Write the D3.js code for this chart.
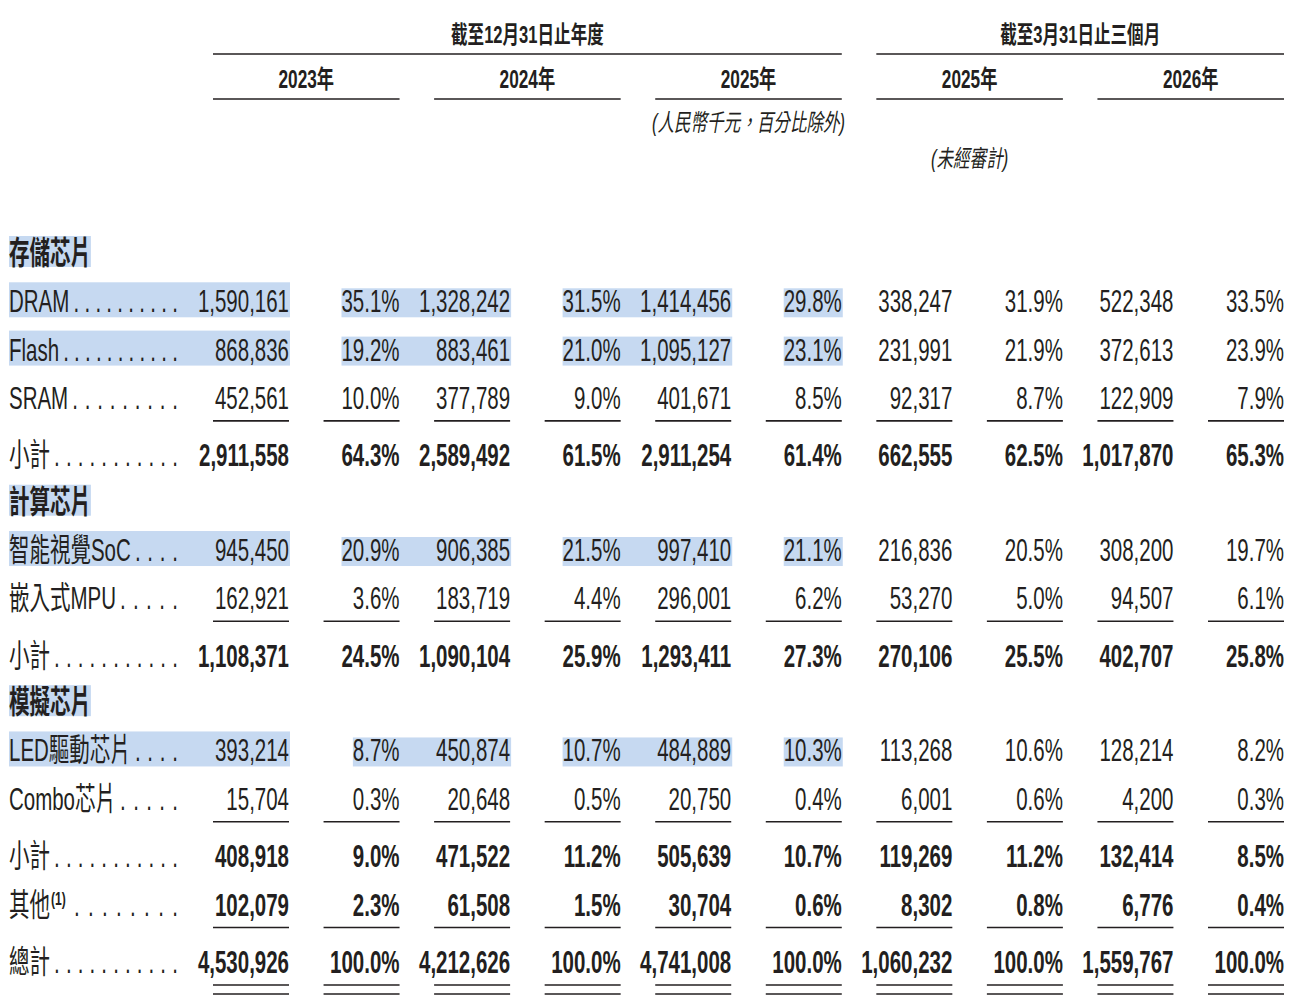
<!DOCTYPE html>
<html>

<head>
    <meta charset="utf-8">
    <title>Revenue by product</title>
    <script src="https://d3js.org/d3.v7.min.js"></script>
    <style>
        body { margin: 0; background: #fff; }
        text { font-family: "Liberation Sans", Arial, "Noto Sans CJK TC", sans-serif; fill: #231f20; }
    </style>
</head>

<body>

    <svg width="1296" height="1005" id="mainSvg" class="svgs"></svg>
    <script>
        // ---- data ----
        const rowLabels = ["存儲芯片", "DRAM", "Flash", "SRAM", "小計", "計算芯片", "智能視覺SoC", "嵌入式MPU", "小計",
            "模擬芯片", "LED驅動芯片", "Combo芯片", "小計", "其他", "總計"];
        const rowTypes = ["section", "item", "item", "item", "subtotal", "section", "item", "item", "subtotal",
            "section", "item", "item", "subtotal", "other", "total"];
        const leaderDots = [0, 10, 11, 9, 11, 0, 4, 5, 11, 0, 4, 5, 11, 8, 11];
        const highlightRows = [1, 2, 6, 10];
        const underlinedRows = [3, 7, 11, 13];
        const footnoteRows = { 13: "(1)" };

        const amt2023 = [null, 1590161, 868836, 452561, 2911558, null, 945450, 162921, 1108371, null, 393214, 15704, 408918, 102079, 4530926];
        const pct2023 = [null, 35.1, 19.2, 10.0, 64.3, null, 20.9, 3.6, 24.5, null, 8.7, 0.3, 9.0, 2.3, 100.0];
        const amt2024 = [null, 1328242, 883461, 377789, 2589492, null, 906385, 183719, 1090104, null, 450874, 20648, 471522, 61508, 4212626];
        const pct2024 = [null, 31.5, 21.0, 9.0, 61.5, null, 21.5, 4.4, 25.9, null, 10.7, 0.5, 11.2, 1.5, 100.0];
        const amt2025 = [null, 1414456, 1095127, 401671, 2911254, null, 997410, 296001, 1293411, null, 484889, 20750, 505639, 30704, 4741008];
        const pct2025 = [null, 29.8, 23.1, 8.5, 61.4, null, 21.1, 6.2, 27.3, null, 10.3, 0.4, 10.7, 0.6, 100.0];
        const amtQ2025 = [null, 338247, 231991, 92317, 662555, null, 216836, 53270, 270106, null, 113268, 6001, 119269, 8302, 1060232];
        const pctQ2025 = [null, 31.9, 21.9, 8.7, 62.5, null, 20.5, 5.0, 25.5, null, 10.6, 0.6, 11.2, 0.8, 100.0];
        const amtQ2026 = [null, 522348, 372613, 122909, 1017870, null, 308200, 94507, 402707, null, 128214, 4200, 132414, 6776, 1559767];
        const pctQ2026 = [null, 33.5, 23.9, 7.9, 65.3, null, 19.7, 6.1, 25.8, null, 8.2, 0.3, 8.5, 0.4, 100.0];

        const periodGroups = ["截至12月31日止年度", "截至3月31日止三個月"];
        const periodYears = ["2023年", "2024年", "2025年", "2025年", "2026年"];
        const unitNote = "(人民幣千元，百分比除外)";
        const auditNote = "(未經審計)";

        const columns = [amt2023, pct2023, amt2024, pct2024, amt2025, pct2025, amtQ2025, pctQ2025, amtQ2026, pctQ2026];

        // ---- layout ----
        const mainSvg = d3.select('.svgs');
        const SX = 0.64;      // condensed look
        const HSX = 0.69;
        const ink = "#231f20";
        const hiColor = "#c6d9f1";
        const colW = 77;
        const labelX = 9;
        const dotEnd = 175;

        const x = d3.scaleLinear().domain([0, columns.length - 1]).range([289, 1284]);

        // row positions in "units": extra space after an underline, a bit less before a section
        const units = [0];
        for (let i = 1; i < rowLabels.length; i++) {
            let step = 1;
            if (underlinedRows.includes(i - 1)) step += 0.19;
            if (rowTypes[i] === "section") step -= 0.04;
            units.push(units[i - 1] + step);
        }
        const y = d3.scaleLinear().domain([0, units[units.length - 1]]).range([264, 973]);

        const fmtAmt = d3.format(",");
        const fmtPct = v => d3.format(".1f")(v) + "%";

        const hiLayer = mainSvg.append("g").attr("id", "highlights");
        const lineLayer = mainSvg.append("g").attr("id", "lines");
        const textLayer = mainSvg.append("g").attr("id", "texts");

        const addText = function (str, tx, ty, o = {}) {
            return textLayer.append("text")
                .attr("transform", `translate(${tx},${ty}) scale(${o.sx || SX},1)`)
                .attr("text-anchor", o.anchor || "start")
                .attr("font-size", o.size || 32)
                .attr("font-weight", o.weight || "normal")
                .attr("font-style", o.style || "normal")
                .text(str);
        }
        const textWidth = (t, sx) => t.node().getComputedTextLength() * sx;

        const hline = function (x1, x2, ly, w = 1.6) {
            lineLayer.append("line")
                .attr("x1", x1).attr("x2", x2).attr("y1", ly).attr("y2", ly)
                .attr("stroke", ink).attr("stroke-width", w);
        }

        // ---- header ----
        const colLeft = i => x(i) - colW + 1;
        const groupSpans = [[0, 5], [6, 9]];
        groupSpans.forEach((s, i) => {
            const cx = (colLeft(s[0]) + x(s[1])) / 2;
            addText(periodGroups[i], cx, 43, { anchor: "middle", size: 24, weight: "bold", sx: HSX });
            hline(colLeft(s[0]), x(s[1]), 54);
        });
        periodYears.forEach((yr, i) => {
            const a = i * 2, b = i * 2 + 1;
            const cx = (colLeft(a) + x(b)) / 2;
            addText(yr, cx, 88, { anchor: "middle", size: 25, weight: "bold", sx: HSX });
            hline(colLeft(a), x(b), 99);
        });
        addText(unitNote, (colLeft(4) + x(5)) / 2, 131, { anchor: "middle", size: 24, style: "italic", sx: HSX });
        addText(auditNote, (colLeft(6) + x(7)) / 2, 167, { anchor: "middle", size: 24, style: "italic", sx: HSX });

        // ---- body ----
        rowLabels.forEach((label, r) => {
            const by = y(units[r]);
            const type = rowTypes[r];

            if (type === "section") {
                const t = addText(label, labelX, by, { weight: 600 });
                hiLayer.append("rect")
                    .attr("x", labelX).attr("y", by - 28)
                    .attr("width", textWidth(t, SX)).attr("height", 31)
                    .attr("fill", hiColor);
                return;
            }

            const lt = addText(label, labelX, by);
            let labelEnd = labelX + textWidth(lt, SX);
            if (footnoteRows[r]) {
                const ft = addText(footnoteRows[r], labelEnd + 1, by - 11, { size: 19, weight: "bold" });
                labelEnd += 1 + textWidth(ft, SX) + 4;
            }
            // leader dots spread from just after the label to the fixed end
            const n = leaderDots[r];
            const first = labelEnd + 7;
            const step = n > 1 ? (dotEnd - first) / (n - 1) : 0;
            d3.range(n).forEach(k => addText(".", first + k * step, by, { anchor: "middle" }));

            const bold = type !== "item";
            const starts = [];
            columns.forEach((col, c) => {
                const v = col[r];
                const t = addText(c % 2 === 0 ? fmtAmt(v) : fmtPct(v), x(c), by,
                    { anchor: "end", weight: bold ? "bold" : "normal" });
                starts.push(x(c) - textWidth(t, SX));
            });

            if (highlightRows.includes(r)) {
                // label+2023 amount, then pct+next amount pairs, then 2025 pct
                const spans = [[labelX, x(0) + 1, 30], [starts[1], x(2) + 1, 24], [starts[3], x(4) + 1, 24], [starts[5], x(5) + 1, 24]];
                spans.forEach(s => {
                    hiLayer.append("rect")
                        .attr("x", s[0]).attr("y", by - s[2])
                        .attr("width", s[1] - s[0]).attr("height", s[2] + 5)
                        .attr("fill", hiColor);
                });
            }

            if (underlinedRows.includes(r)) {
                columns.forEach((col, c) => hline(colLeft(c), x(c), by + 12));
            }
            if (type === "total") {
                columns.forEach((col, c) => {
                    hline(colLeft(c), x(c), by + 12);
                    hline(colLeft(c), x(c), by + 21);
                });
            }
        });
    </script>
</body>

</html>
